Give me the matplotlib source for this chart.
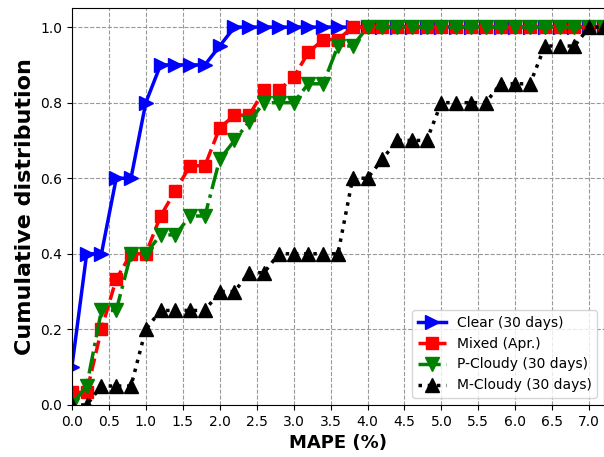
import matplotlib
matplotlib.use('Agg')
import matplotlib.pyplot as plt
import numpy as np

# MAPE grid (%), sampled every 0.2
mape = np.round(np.arange(0, 7.21, 0.2), 1)

clear = [0.1, 0.4, 0.4, 0.6, 0.6, 0.8, 0.9, 0.9, 0.9, 0.9, 0.95, 1.0] + [1.0] * 25
mixed = [0.033, 0.033, 0.2, 0.333, 0.4, 0.4, 0.5, 0.567, 0.633, 0.633, 0.733, 0.767,
         0.767, 0.833, 0.833, 0.867, 0.933, 0.967, 0.967, 1.0] + [1.0] * 17
pcloudy = [0.0, 0.05, 0.25, 0.25, 0.4, 0.4, 0.45, 0.45, 0.5, 0.5, 0.65, 0.7,
           0.75, 0.8, 0.8, 0.8, 0.85, 0.85, 0.95, 0.95, 1.0] + [1.0] * 16
mcloudy = [0.0, 0.0, 0.05, 0.05, 0.05, 0.2, 0.25, 0.25, 0.25, 0.25, 0.3, 0.3,
           0.35, 0.35, 0.4, 0.4, 0.4, 0.4, 0.4, 0.6, 0.6, 0.65, 0.7, 0.7, 0.7,
           0.8, 0.8, 0.8, 0.8, 0.85, 0.85, 0.85, 0.95, 0.95, 0.95, 1.0, 1.0]

fig = plt.figure(figsize=(6.04, 4.57), dpi=100)
ax = fig.add_axes([0.119, 0.114, 0.881, 0.868])

ax.plot(mape, clear, '->', color='blue', lw=2.5, ms=10, label='Clear (30 days)')
ax.plot(mape, mixed, '--s', color='red', lw=2.5, ms=8.5, label='Mixed (Apr.)')
ax.plot(mape, pcloudy, '-.v', color='green', lw=2.5, ms=10, label='P-Cloudy (30 days)')
ax.plot(mape, mcloudy, ':^', color='black', lw=2.5, ms=9.5, label='M-Cloudy (30 days)')

ax.set_xlim(0, 7.2)
ax.set_ylim(0, 1.05)
ax.set_xticks(np.arange(0, 7.01, 0.5))
ax.set_yticks(np.arange(0, 1.01, 0.2))
ax.tick_params(labelsize=10)
ax.grid(True, linestyle='--', color='0.6', lw=0.8)
ax.set_xlabel('MAPE (%)', fontsize=13, fontweight='bold')
ax.set_ylabel('Cumulative distribution', fontsize=16, fontweight='bold')
ax.legend(loc='lower right', fontsize=10)

fig.savefig('out.png', dpi=100)
